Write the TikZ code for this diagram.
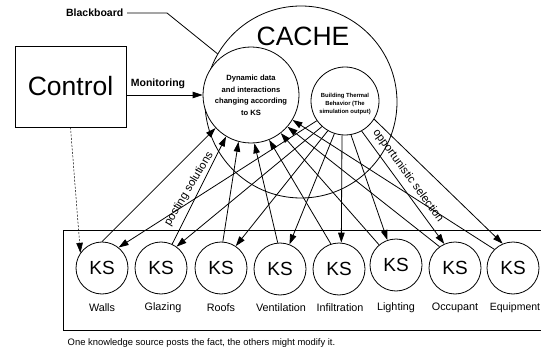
\documentclass[tikz,border=0pt]{standalone}
\usepackage{fontspec}
\setmainfont{Liberation Sans}
\usetikzlibrary{arrows.meta,calc}
\begin{document}
\begin{tikzpicture}[x=1pt,y=-1pt,line width=0.8pt,
  arr/.style={-{Triangle[length=10pt,width=6.5pt]}},
  ksnode/.style={circle,draw,minimum size=52pt,inner sep=0pt,font=\fontsize{19}{19}\selectfont},
  kslab/.style={font=\fontsize{10.8}{11}\selectfont},
  biglab/.style={font=\fontsize{26.5}{27}\selectfont},
  smallbold/.style={font=\bfseries\fontsize{10.5}{11}\selectfont},
  rotlab/.style={font=\fontsize{11.3}{12}\selectfont,inner sep=1pt}
]
\useasboundingbox (0,0) rectangle (541,350);

% Control
\node[draw,minimum width=111pt,minimum height=81pt,inner sep=0pt,biglab] (ctrl) at (70.5,86.5) {Control};

% cache circles
\node[circle,draw,minimum size=192pt,inner sep=0pt] (cache) at (301,102) {};
\node[biglab] (cachetxt) at (303,36) {CACHE};
\node[circle,draw,fill=white,minimum size=96pt,inner sep=0pt] (dyn) at (251,95) {};
\node[align=center,font=\bfseries\fontsize{7.6}{11.5}\selectfont] (dyntxt) at (251,95.5)
  {Dynamic data\\and interactions\\changing according\\to KS};
\node[circle,draw,fill=white,minimum size=68pt,inner sep=0pt] (therm) at (345,101) {};
\node[align=center,font=\bfseries\fontsize{5.9}{8}\selectfont] (thermtxt) at (345,104)
  {Building Thermal\\Behavior (The\\simulation output)};

% Blackboard label
\node[smallbold,anchor=east] (bb) at (127,13) {Blackboard};
\coordinate (bbk) at (167,13);
\draw (bb.east) -- (bbk) -- (cache.150);

% Monitoring
\draw[arr] (ctrl.east |- dyn.west) -- (dyn.west);
\node[smallbold] (mon) at (158,84) {Monitoring};

% bottom box
\coordinate (bx1) at (541,230);
\coordinate (bx2) at (63,230);
\coordinate (bx3) at (63,330);
\coordinate (bx4) at (541,330);
\draw (bx1) -- (bx2) -- (bx3) -- (bx4);

% KS nodes
\node[ksnode] (ks1) at (102,268) {KS};
\node[ksnode] (ks2) at (161,268) {KS};
\node[ksnode] (ks3) at (221,268) {KS};
\node[ksnode] (ks4) at (280,269) {KS};
\node[ksnode] (ks5) at (339,269) {KS};
\node[ksnode] (ks6) at (396,265) {KS};
\node[ksnode] (ks7) at (455,268) {KS};
\node[ksnode] (ks8) at (513,268) {KS};

\node[kslab] (l1) at (102,308) {Walls};
\node[kslab] (l2) at (163,308) {Glazing};
\node[kslab] (l3) at (221,308) {Roofs};
\node[kslab] (l4) at (281,308) {Ventilation};
\node[kslab] (l5) at (340,308) {Infiltration};
\node[kslab] (l6) at (396,308) {Lighting};
\node[kslab] (l7) at (455,308) {Occupant};
\node[kslab,anchor=east,inner xsep=0pt,font=\fontsize{10.5}{11}\selectfont] (l8) at (540.5,308) {Equipment};

\node[anchor=west,font=\fontsize{9.4}{10}\selectfont] (cap) at (64,343)
  {One knowledge source posts the fact, the others might modify it.};

% arrows KS -> dyn
\foreach \i/\a/\b in {1/90/223, 2/65/239, 3/86/255, 4/95/274, 5/108/292, 6/130/308, 7/126/319, 8/135/329}{
  \draw[arr] (ks\i.\a) -- (dyn.\b);
}
% arrows therm -> KS
\foreach \i/\a/\b in {1/215/51, 2/228/54, 3/240/56, 4/252/69, 5/265/85, 6/280/109, 7/299/114, 8/328/113}{
  \draw[arr] (therm.\a) -- (ks\i.\b);
}

% control dashed
\draw[arr,line width=0.5pt,dash pattern=on 2pt off 1.5pt] (ctrl.south) -- (ks1.145);

% rotated labels
\node[rotlab,rotate=59] (post) at (189,189) {posting solutions};
\node[rotlab,rotate=-54] (opp) at (408,176) {opportunistic selection};
\end{tikzpicture}
\end{document}
